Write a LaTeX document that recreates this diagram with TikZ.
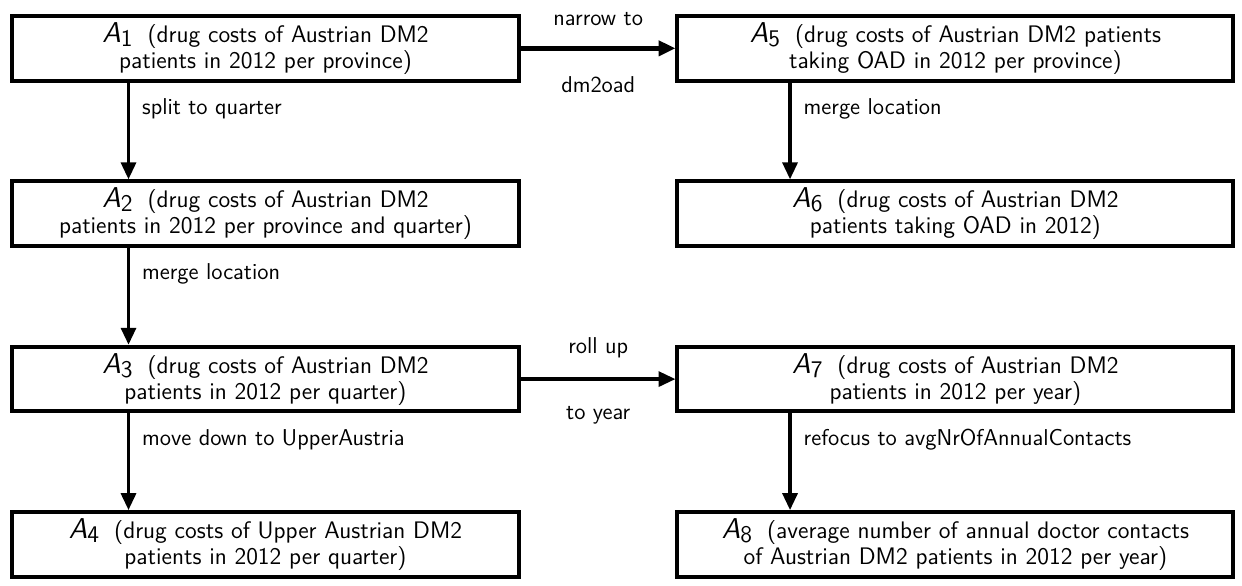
\documentclass[tikz,border=0pt]{standalone}
\usepackage{tikz}
\usetikzlibrary{matrix}
\usetikzlibrary{calc}
\usetikzlibrary{arrows.meta}
\tikzset{
  % use \& to separate cells in matrices
  every matrix/.style={ampersand replacement=\&},
  % all text in sans serif
  every node/.append style={font=\fontsize{11.5pt}{12pt}\selectfont\sffamily},
}
\tikzset{
  cube/.style={draw,line width=2pt,align=center,
    minimum height=32.5pt,inner sep=2pt,
    font=\fontsize{12pt}{11.8pt}\selectfont\sffamily},
  leftcube/.style={cube,minimum width=254.5pt},
  rightcube/.style={cube,minimum width=279pt},
  opstep/.style={line width=1.7pt,-{Triangle[length=8.5pt,width=7.5pt]}},
  oplabel/.style={inner sep=1pt},
}
\newcommand{\Cube}[1]{{\Large\itshape A}\raisebox{-.4ex}{#1}\hspace{.3em}}

\begin{document}
\begin{tikzpicture}
        \matrix[column sep=77.5pt, row sep=48.5pt]
        {
          \node[leftcube] (a1) {\Cube{1}~(drug costs of Austrian DM2\\ patients in 2012 per province)}; \&
          \node[rightcube] (a5) {\Cube{5}~(drug costs of Austrian DM2 patients\\ taking OAD in 2012 per province)}; \\
          %
          \node[leftcube] (a2) {\Cube{2}~(drug costs of Austrian DM2\\ patients in 2012 per province and quarter)}; \&
          \node[rightcube] (a6) {\Cube{6}~(drug costs of Austrian DM2\\ patients taking OAD in 2012)}; \\
          %
          \node[leftcube] (a3) {\Cube{3}~(drug costs of Austrian DM2\\ patients in 2012 per quarter)}; \&
          \node[rightcube] (a7) {\Cube{7}~(drug costs of Austrian DM2\\ patients in 2012 per year)}; \\
          %
          \node[leftcube] (a4) {\Cube{4}~(drug costs of Upper Austrian DM2\\ patients in 2012 per quarter)}; \&
          \node[rightcube] (a8) {\Cube{8}~(average number of annual doctor contacts\\ of Austrian DM2 patients in 2012 per year)}; \\
        };

        \useasboundingbox ($(a1.north west)+(-5pt,7pt)$) rectangle ++(621pt,-288pt);

        % slicing across columns
        \draw[opstep,line width=2.8pt] (a1) -- (a5)
          node[midway,above=9pt,oplabel] {narrow to}
          node[midway,below=12pt,oplabel] {dm2oad};
        \draw[opstep] (a3) -- (a7)
          node[midway,above=9pt,oplabel] {roll up}
          node[midway,below=12pt,oplabel] {to year};

        % steps down each column
        \draw[opstep] ([xshift=59.5pt]a1.south west) -- ([xshift=59.5pt]a2.north west)
          node[pos=.27,right=5pt,oplabel] {split to quarter};
        \draw[opstep] ([xshift=59.5pt]a2.south west) -- ([xshift=59.5pt]a3.north west)
          node[pos=.27,right=5pt,oplabel] {merge location};
        \draw[opstep] ([xshift=59.5pt]a3.south west) -- ([xshift=59.5pt]a4.north west)
          node[pos=.27,right=5pt,oplabel] {move down to UpperAustria};
        \draw[opstep] ([xshift=57.5pt]a5.south west) -- ([xshift=57.5pt]a6.north west)
          node[pos=.27,right=5pt,oplabel] {merge location};
        \draw[opstep] ([xshift=57.5pt]a7.south west) -- ([xshift=57.5pt]a8.north west)
          node[pos=.27,right=5pt,oplabel] {refocus to avgNrOfAnnualContacts};
      \end{tikzpicture}
\end{document}
